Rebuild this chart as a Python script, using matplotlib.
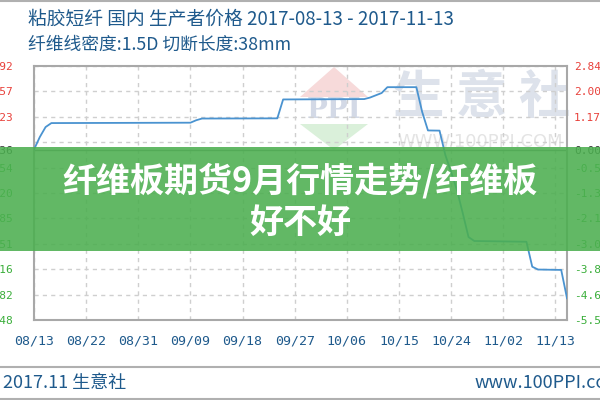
import matplotlib
matplotlib.use("Agg")
import matplotlib.pyplot as plt
import numpy as np
import pandas as pd
from matplotlib.patches import Rectangle, Polygon
from matplotlib.lines import Line2D

# ---------------- data ----------------
dates = ["2017-08-13", "2017-08-14", "2017-08-15", "2017-08-16", "2017-09-09",
         "2017-09-10", "2017-09-11", "2017-09-24", "2017-09-25", "2017-10-09",
         "2017-10-10", "2017-10-12", "2017-10-13", "2017-10-18", "2017-10-19",
         "2017-10-20", "2017-10-22", "2017-10-23", "2017-10-24", "2017-10-25",
         "2017-10-26", "2017-10-27", "2017-10-28", "2017-11-06", "2017-11-07",
         "2017-11-08", "2017-11-12", "2017-11-13"]
prices = [15650, 15716, 15769, 15790, 15792,
          15805, 15814, 15815, 15915, 15917,
          15925, 15949, 15980, 15980, 15849,
          15751, 15750, 15621, 15531, 15436,
          15314, 15187, 15166, 15162, 15030,
          15015, 15013, 14863]
base_price = 15650

x_tick_dates = ["2017-08-13", "2017-08-22", "2017-08-31", "2017-09-09", "2017-09-18",
                "2017-09-27", "2017-10-06", "2017-10-15", "2017-10-24", "2017-11-02",
                "2017-11-11"]
x_tick_labels = ["08/13", "08/22", "08/31", "09/09", "09/18", "09/27",
                 "10/06", "10/15", "10/24", "11/02", "11/13"]

y_min, y_max = 14748, 16092
left_labels = ["16092", "15957", "15823", None, "15554", "15420",
               "15285", "15151", "15016", "14882", "14748"]
right_labels = ["2.84", "2.00", "1.17", None, "-0.50", "-1.34",
                "-2.17", "-3.01", "-3.84", "-4.68", "-5.51"]
base_left_label = "15636"
base_right_label = "0.00"

title1 = "粘胶短纤 国内 生产者价格 2017-08-13 - 2017-11-13"
title2 = "纤维线密度:1.5D 切断长度:38mm"
banner1 = "纤维板期货9月行情走势/纤维板"
banner2 = "好不好"
footer_left = "2017.11 生意社"
footer_right = "www.100PPI.com"

# ---------------- style ----------------
CJK = ["Noto Sans CJK SC", "DejaVu Sans"]
MONO = ["DejaVu Sans Mono"]
plt.rcParams["font.family"] = CJK
blue_txt = "#1f5a8c"
red = "#e8403a"
green = "#3aae3a"
grid_c = "#cfcfcf"

W, H = 600, 400
def fx(px):
    return px / W
def fy(py):
    return 1 - py / H

fig = plt.figure(figsize=(6, 4), dpi=100)
fig.patch.set_facecolor("white")

ax = fig.add_axes([fx(34), fy(320), (567 - 34) / W, (320 - 66) / H])
x = pd.to_datetime(dates)
ax.set_xlim(pd.Timestamp("2017-08-13"), pd.Timestamp("2017-11-13"))
ax.set_ylim(y_min, y_max)

tick_vals = np.linspace(y_max, y_min, len(left_labels))

# watermark (behind data)
tf = fig.transFigure
ax.add_patch(Polygon([(fx(300), fy(97)), (fx(368), fy(97)), (fx(334), fy(67))],
                     closed=True, transform=tf, facecolor="#f7dada", edgecolor="none", zorder=0.5))
ax.add_patch(Polygon([(fx(300), fy(124)), (fx(368), fy(124)), (fx(334), fy(150))],
                     closed=True, transform=tf, facecolor="#daf0da", edgecolor="none", zorder=0.5))
ax.text(fx(334), fy(110), "PPI", transform=tf, ha="center", va="center",
        fontsize=20, fontweight="bold", color="#d3d9e6", family=["DejaVu Serif"], zorder=0.6)
ax.text(fx(482), fy(97), "生 意 社", transform=tf, ha="center", va="center",
        fontsize=37, fontweight="bold", color="#dde2eb", zorder=0.6)
ax.text(fx(480), fy(142), "WWW.100PPI.COM", transform=tf, ha="center", va="center",
        fontsize=13, color="#e4e4e4", family=["DejaVu Sans"], zorder=0.6)

# grid
for v in tick_vals:
    ax.axhline(v, color=grid_c, lw=1, ls=(0, (3, 3)), zorder=1)
for d in x_tick_dates:
    ax.axvline(pd.Timestamp(d), color=grid_c, lw=1, ls=(0, (3, 3)), zorder=1)
ax.axhline(base_price, color="#8a8a8a", lw=1, zorder=1.5)

ax.plot(x, prices, color="#4a93d0", lw=1.3, zorder=3)

for s in ax.spines.values():
    s.set_color("#a8a8a8")
    s.set_linewidth(1.5)

# x ticks
ax.set_xticks(pd.to_datetime(x_tick_dates))
ax.set_xticklabels(x_tick_labels)
ax.tick_params(axis="x", length=0, pad=10.5, labelsize=9.5, labelcolor=blue_txt)
for t in ax.get_xticklabels():
    t.set_family(MONO)

# left y ticks
ly_pos = [v for v, l in zip(tick_vals, left_labels) if l is not None] + [base_price]
ly_lab = [l for l in left_labels if l is not None] + [base_left_label]
ax.set_yticks(ly_pos)
ax.set_yticklabels(ly_lab)
ax.tick_params(axis="y", length=0, pad=15, labelsize=8)
for v, t in zip(ly_pos, ax.get_yticklabels()):
    t.set_family(MONO)
    if v > base_price + 1:
        t.set_color(red)
    elif v < base_price - 1:
        t.set_color(green)
    else:
        t.set_color("#333333")

# right y ticks
ax2 = ax.twinx()
ax2.set_ylim(y_min, y_max)
ry_pos = [v for v, l in zip(tick_vals, right_labels) if l is not None] + [base_price]
ry_lab = [l for l in right_labels if l is not None] + [base_right_label]
ax2.set_yticks(ry_pos)
ax2.set_yticklabels(ry_lab)
ax2.tick_params(axis="y", length=0, pad=5, labelsize=8)
for s in ax2.spines.values():
    s.set_visible(False)
for v, t in zip(ry_pos, ax2.get_yticklabels()):
    t.set_family(MONO)
    if v > base_price + 1:
        t.set_color(red)
    elif v < base_price - 1:
        t.set_color(green)
    else:
        t.set_color("#333333")

# titles
fig.text(fx(28), fy(19), title1, ha="left", va="center", fontsize=13.5, color=blue_txt)
fig.text(fx(28), fy(45), title2, ha="left", va="center", fontsize=12.8, color=blue_txt)

# frame lines
fig.add_artist(Line2D([0, 1], [fy(1), fy(1)], transform=tf, color="#b0b0b0", lw=1.5))
fig.add_artist(Line2D([0, 1], [fy(367), fy(367)], transform=tf, color="#b0b0b0", lw=1.5))
fig.add_artist(Line2D([0, 1], [fy(399), fy(399)], transform=tf, color="#b0b0b0", lw=1.5))

# footer
fig.text(fx(3), fy(383), footer_left, ha="left", va="center", fontsize=13, color=blue_txt)
fig.text(fx(475), fy(383), footer_right, ha="left", va="center", fontsize=13, color=blue_txt)

# banner overlay
fig.add_artist(Rectangle((0, fy(251)), 1, (251 - 147) / H, transform=tf,
                         facecolor="#4caf50", edgecolor="none", alpha=0.88, zorder=10))
fig.text(0.5, fy(181), banner1, ha="center", va="center", fontsize=24.5,
         fontweight="bold", color="white", zorder=11)
fig.text(0.5, fy(222), banner2, ha="center", va="center", fontsize=24.5,
         fontweight="bold", color="white", zorder=11)

fig.savefig("out.png", dpi=100)
